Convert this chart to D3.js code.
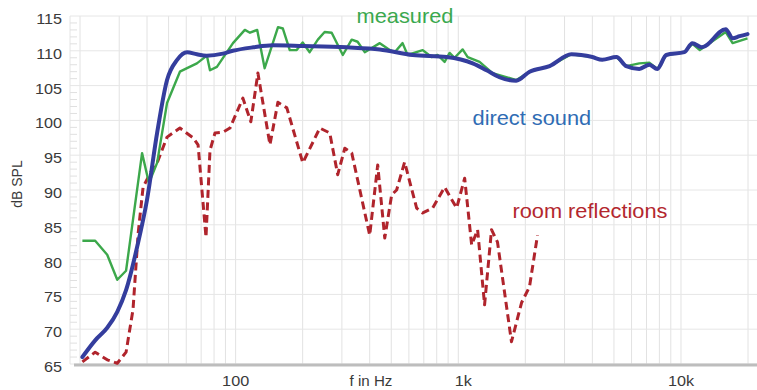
<!DOCTYPE html>
<html>
<head>
<meta charset="utf-8">
<script src="https://cdn.jsdelivr.net/npm/d3@7/dist/d3.min.js"></script>
<style>
  html, body { margin: 0; padding: 0; background: #fff; }
  svg { display: block; font-family: "Liberation Sans", Arial, sans-serif; }
</style>
</head>
<body>
<div class="container-chart"></div>
<script>
/* --------------------------------------------------------- */
/* DATA                                                      */
/* --------------------------------------------------------- */
// direct sound (blue)
const directFreq = [20.5, 23.4, 26.5, 29.4, 32.2, 36.1, 40, 44.4, 49.2, 54.6, 60.5, 67, 74, 87.7, 97,
    120, 147, 200, 316, 444, 624, 887, 1160, 1340, 1530, 1820, 2090, 2570, 3220, 4000, 4430, 5130,
    5680, 6500, 7210, 7830, 8590, 10350, 11250, 12400, 15890, 17060, 18330, 19900];
const directDb = [66, 68.4, 70.2, 72.5, 75.6, 81.8, 88.6, 98.2, 105.8, 108.7, 109.8, 109.5, 109.3, 109.6, 110,
    110.5, 110.8, 110.7, 110.5, 110.2, 109.4, 109.1, 108.2, 107.2, 106.2, 105.7, 107, 107.8, 109.5, 109.1, 108.7, 109.1,
    107.8, 107.4, 108, 107.4, 109.4, 109.8, 111.1, 110.5, 113.1, 111.8, 112.1, 112.4];

// measured (green)
const measuredFreq = [20.5, 23.4, 26.5, 29.4, 32.2, 38, 40.8, 44.4, 49.2, 56.2, 60.5, 67, 74.3, 76.7, 82.4,
    97.3, 110, 116, 125, 135, 155, 163, 175, 188, 200, 215, 234, 251, 270, 303, 332, 353, 380, 444,
    492, 518, 562, 592, 692, 759, 807, 868, 914, 962, 1046, 1102, 1246, 1425, 1824, 2090, 2570, 3220,
    4000, 4430, 5130, 5680, 6500, 7210, 7830, 8590, 10350, 11250, 12150, 15890, 17060, 19900];
const measuredDb = [82.7, 82.7, 80.7, 77.1, 78.4, 95.3, 91, 93.9, 102.5, 107, 107.5, 108.2, 109.3, 107.2, 107.7,
    111.1, 113, 112.6, 113, 107.5, 113.4, 113.2, 110.1, 110.1, 111.2, 109.8, 111.6, 112.7, 112.6, 109.4, 111.6, 111.3, 109.8, 111.1,
    110.1, 109.8, 111.1, 109.4, 110.1, 109.1, 109.4, 108.4, 109.7, 109, 110.2, 109.1, 108.4, 106.8, 105.8, 107, 107.8, 109.5,
    109.1, 108.7, 109.1, 107.8, 108.2, 108.3, 107.4, 109.4, 109.8, 111, 110.1, 112.7, 111.1, 111.8];

// room reflections (red, dashed)
const roomFreq = [20.5, 23.4, 26.5, 29.4, 32.2, 34.6, 36.5, 38.4, 41.3, 44.4, 49.2, 56.2, 64.4, 67.8, 73.6,
    76.7, 80.8, 87.7, 94.3, 107.8, 117, 125.9, 142.6, 154.8, 169.8, 200.3, 238.8, 264.6, 287.4, 309.2, 332.4,
    400, 434.6, 467.4, 502, 528.5, 574, 650, 692, 767, 868, 983, 1068, 1148, 1221, 1312, 1410, 1500,
    1733, 1923, 2088, 2268];
const roomDb = [65.3, 66.7, 65.6, 65.1, 66.7, 72.8, 83.8, 90.4, 92.4, 93.9, 97.6, 98.9, 97.5, 96.5, 83.2,
    95.7, 98.2, 98.3, 98.9, 103.2, 99.8, 106.8, 96.5, 102.6, 101.8, 93.9, 98.9, 98.2, 92.2, 96, 95.3,
    83.5, 93.6, 83.1, 89.3, 90, 94, 87.4, 86.7, 87.4, 90.4, 87.4, 91.7, 82.1, 84.3, 73.5, 84.3, 82.5,
    68.2, 73.8, 76.1, 83.5];

// axes
const yTickValues = [65, 70, 75, 80, 85, 90, 95, 100, 105, 110, 115];
const xTickValues = [100, 1000, 10000];
const xTickText = ["100", "1k", "10k"];

// annotation labels: text, frequency, dB
const labelText = ["measured", "direct sound", "room reflections"];
const labelFreq = [576, 2140, 3900];
const labelDb = [114, 99.3, 86];

/* --------------------------------------------------------- */
/* DRAW CHART                                                */
/* --------------------------------------------------------- */
const width = 757, height = 390;
const colors = { direct: "#343d9d", measured: "#3ca84b", room: "#b0242c" };
const labelColors = ["#3aa84e", "#2f6cb4", "#b3272e"];

const x = d3.scaleLog().domain([20, 20000]).range([80, 748]);
const y = d3.scaleLinear().domain([65, 115]).range([364, 16]);

const svg = d3.select(".container-chart")
    .append("svg")
    .attr("width", width)
    .attr("height", height);

// vertical log grid lines
const gridFreqs = [];
[10, 100, 1000, 10000].forEach(function (dec) {
    for (let k = 1; k <= 9; k++) {
        const f = dec * k;
        if (f >= 20 && f <= 20000) gridFreqs.push(f);
    }
});

svg.append("g")
    .selectAll("line")
    .data(gridFreqs)
    .join("line")
    .attr("x1", d => x(d)).attr("x2", d => x(d))
    .attr("y1", y(115)).attr("y2", y(65))
    .attr("stroke", "#e2e2e2")
    .attr("stroke-width", 1);

// horizontal grid lines
svg.append("g")
    .selectAll("line")
    .data(yTickValues)
    .join("line")
    .attr("x1", 70).attr("x2", width)
    .attr("y1", d => y(d)).attr("y2", d => y(d))
    .attr("stroke", "#e6e6e6")
    .attr("stroke-width", 1);

// little dB ticks on the left
svg.append("line")
    .attr("x1", 70).attr("x2", 70)
    .attr("y1", y(115)).attr("y2", y(65))
    .attr("stroke", "#e4e4e4");

svg.append("g")
    .selectAll("line")
    .data(d3.range(66, 115).filter(d => d % 5 !== 0))
    .join("line")
    .attr("x1", 70).attr("x2", 77)
    .attr("y1", d => y(d)).attr("y2", d => y(d))
    .attr("stroke", "#e0e0e0");

// bottom axis line
svg.append("line")
    .attr("x1", 74).attr("x2", width)
    .attr("y1", y(65) + 1).attr("y2", y(65) + 1)
    .attr("stroke", "#bdbdbd")
    .attr("stroke-width", 3);

// y tick labels
svg.append("g")
    .selectAll("text")
    .data(yTickValues)
    .join("text")
    .attr("transform", d => `translate(62,${y(d) + 8}) scale(1.12,1)`)
    .attr("text-anchor", "end")
    .attr("font-size", 14.5)
    .attr("fill", "#3a3a3a")
    .text(d => d);

// x tick labels
svg.append("g")
    .selectAll("text")
    .data(xTickValues)
    .join("text")
    .attr("transform", (d, i) => `translate(${x(d) + (i === 1 ? 5 : 0)},386) scale(1.12,1)`)
    .attr("text-anchor", "middle")
    .attr("font-size", 14.5)
    .attr("fill", "#3a3a3a")
    .text((d, i) => xTickText[i]);

// axis titles
svg.append("text")
    .attr("transform", "translate(371,386) scale(1.08,1)")
    .attr("text-anchor", "middle")
    .attr("font-size", 14)
    .attr("fill", "#3a3a3a")
    .text("f in Hz");

svg.append("text")
    .attr("transform", "translate(22,184) rotate(-90)")
    .attr("text-anchor", "middle")
    .attr("font-size", 14)
    .attr("fill", "#3a3a3a")
    .text("dB SPL");

// curves
const line = d3.line()
    .x(d => x(d[0]))
    .y(d => y(d[1]));

const room = d3.zip(roomFreq, roomDb);
const measured = d3.zip(measuredFreq, measuredDb);
const direct = d3.zip(directFreq, directDb);

svg.append("path")
    .datum(room)
    .attr("d", line)
    .attr("fill", "none")
    .attr("stroke", colors.room)
    .attr("stroke-width", 3)
    .attr("stroke-dasharray", "8,4.5")
    .attr("stroke-linejoin", "round");

svg.append("path")
    .datum(measured)
    .attr("d", line)
    .attr("fill", "none")
    .attr("stroke", colors.measured)
    .attr("stroke-width", 2.4)
    .attr("stroke-linejoin", "round");

svg.append("path")
    .datum(direct)
    .attr("d", line.curve(d3.curveMonotoneX))
    .attr("fill", "none")
    .attr("stroke", colors.direct)
    .attr("stroke-width", 4)
    .attr("stroke-linejoin", "round")
    .attr("stroke-linecap", "round");

// annotations
svg.append("g")
    .selectAll("text")
    .data(labelText)
    .join("text")
    .attr("transform", (d, i) => `translate(${x(labelFreq[i])},${y(labelDb[i])}) scale(1.09,1)`)
    .attr("text-anchor", "middle")
    .attr("font-size", 20)
    .attr("fill", (d, i) => labelColors[i])
    .text(d => d);
</script>
</body>
</html>
